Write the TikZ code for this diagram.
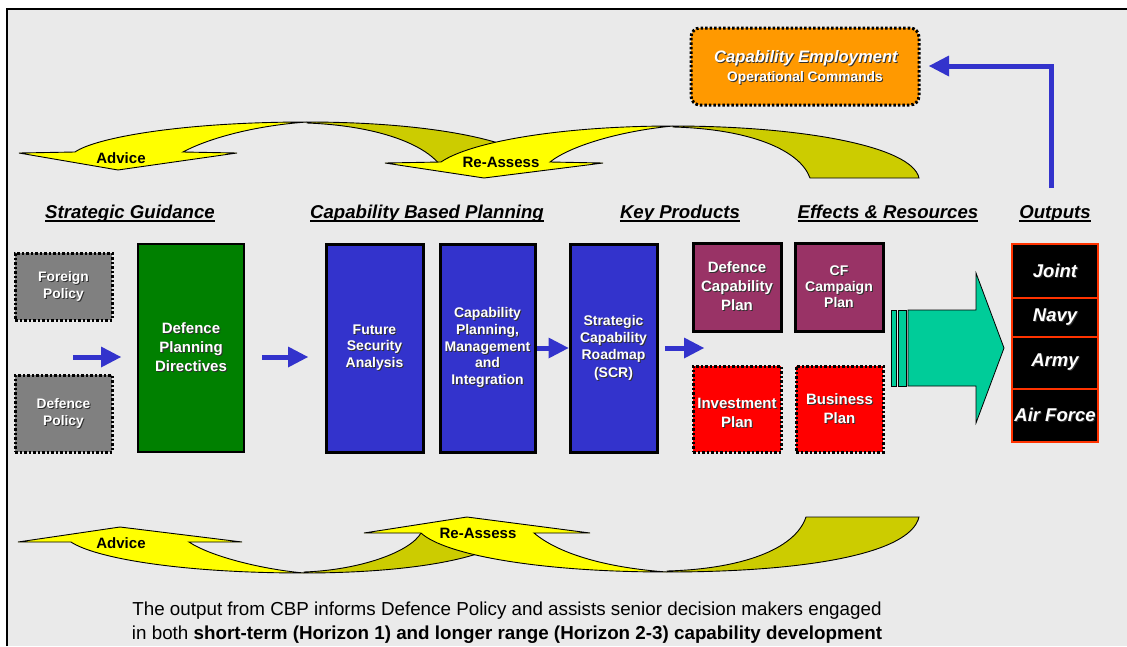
\documentclass[tikz,border=0pt]{standalone}
\usepackage{fontspec}
\setmainfont{Liberation Sans}
\usetikzlibrary{arrows.meta}
\definecolor{bgc}{HTML}{EAEAEA}
\definecolor{grayc}{HTML}{808080}
\definecolor{greenc}{HTML}{008000}
\definecolor{bluec}{HTML}{3333CC}
\definecolor{purplec}{HTML}{993366}
\definecolor{redc}{HTML}{FF0000}
\definecolor{tealc}{HTML}{00CC99}
\definecolor{orangec}{HTML}{FF9900}
\definecolor{yelc}{HTML}{FFFF00}
\definecolor{olivec}{HTML}{CCCC00}
\definecolor{outred}{HTML}{FF3300}
\definecolor{shadowc}{HTML}{303030}
\newcommand\shd[1]{\leavevmode\rlap{\raisebox{-1pt}{\kern1pt\textcolor{shadowc}{#1}}}#1}
\tikzset{
  solidbox/.style={draw=black, line width=2.5pt, text=white, align=center, inner sep=0pt},
  dotbox/.style={draw=black, line width=3pt, dash pattern=on 2.5pt off 2pt, text=white, align=center, inner sep=0pt},
  head/.style={font=\bfseries\itshape\fontsize{18.6}{20}\selectfont, inner sep=0pt, anchor=base},
  lbl/.style={font=\bfseries\fontsize{15}{17}\selectfont, inner sep=0pt},
  yarrow/.style={draw=black, line width=0.9pt, line join=miter},
  barrow/.style={draw=bluec, line width=5pt, -{Triangle[length=20pt,width=21pt,line width=0pt]}},
  outcell/.style={draw=outred, line width=1.5pt, fill=black, text=white, inner sep=0pt,
     minimum width=86pt, font=\bfseries\itshape\fontsize{18.5}{20}\selectfont},
  teal/.style={draw=black, line width=0.8pt, fill=tealc}
}
\begin{document}
\begin{tikzpicture}[x=1pt,y=-1pt]
\useasboundingbox (0,0) rectangle (1127,646);
\fill[bgc] (7,9) rectangle (1127,646);
\draw[line width=1.5pt] (7,646) -- (7,9) -- (1127,9);

% ---- top curved arrows ----
\filldraw[yarrow, fill=olivec] (307,122) .. controls (420,122) and (520,138) .. (545,168) -- (443,170) .. controls (432,148) and (385,126) .. (307,123) -- cycle;
\filldraw[yarrow, fill=yelc] (19,153) -- (75,152) .. controls (95,138) and (180,122) .. (307,122) .. controls (250,126) and (205,140) .. (183,152) -- (237,153) -- (118,170) -- cycle;
\filldraw[yarrow, fill=olivec] (673,126) .. controls (800,126) and (912,146) .. (919,178) -- (810,178) .. controls (800,150) and (750,129) .. (673,127) -- cycle;
\filldraw[yarrow, fill=yelc] (385,163) -- (441,162) .. controls (470,142) and (560,126) .. (673,126) .. controls (620,131) and (570,146) .. (550,162) -- (603,163) -- (484,178) -- cycle;
\node[lbl] (adv1) at (121,158) {Advice};
\node[lbl] (rea1) at (501,162) {Re-Assess};

% ---- bottom curved arrows ----
\filldraw[yarrow, fill=olivec] (304,573) .. controls (380,573) and (480,565) .. (515,535) -- (421,533) .. controls (410,552) and (360,570) .. (304,572) -- cycle;
\filldraw[yarrow, fill=yelc] (18,542) -- (71,542) .. controls (95,558) and (180,573) .. (304,573) .. controls (260,569) and (210,556) .. (189,542) -- (242,542) -- (120,527) -- cycle;
\filldraw[yarrow, fill=olivec] (667,572) .. controls (800,572) and (910,555) .. (919,517) -- (806,517) .. controls (795,550) and (740,569) .. (667,571) -- cycle;
\filldraw[yarrow, fill=yelc] (364,533) -- (421,533) .. controls (445,555) and (540,572) .. (667,572) .. controls (610,568) and (560,555) .. (534,533) -- (590,533) -- (467,517) -- cycle;
\node[lbl] (adv2) at (121,543) {Advice};
\node[lbl] (rea2) at (478,533) {Re-Assess};

% ---- capability employment ----
\node[dotbox, fill=orangec, rounded corners=9pt, minimum width=228pt, minimum height=77pt] (ce) at (805,66.5) {};
\node[text=white, font=\bfseries\itshape\fontsize{16.6}{18}\selectfont, inner sep=0pt] (cet1) at (806,59) {\shd{Capability Employment}};
\node[text=white, font=\bfseries\fontsize{13.8}{15}\selectfont, inner sep=0pt] (cet2) at (805,78) {\shd{Operational Commands}};

% ---- headings ----
\node[head] (h1) at (130,218.5) {Strategic Guidance};
\node[head] (h2) at (427,218.5) {Capability Based Planning};
\node[head] (h3) at (680,218.5) {Key Products};
\node[head] (h4) at (888,218.5) {Effects \& Resources};
\node[head] (h5) at (1055,218.5) {Outputs};
\foreach \n in {h1,h2,h3,h4,h5}
  \draw[line width=1.3pt] ([yshift=-2.6pt]\n.base west) -- ([yshift=-2.6pt]\n.base east);

% ---- boxes ----
\node[dotbox, fill=grayc, minimum width=97pt, minimum height=67pt, font=\bfseries\fontsize{13.8}{17}\selectfont] (fp) at (63.5,286.5) {\shd{Foreign}\\\shd{Policy}};
\node[dotbox, fill=grayc, minimum width=97pt, minimum height=77pt, font=\bfseries\fontsize{13.8}{17}\selectfont] (dp) at (63.5,413.5) {\shd{Defence}\\\shd{Policy}};
\node[solidbox, fill=greenc, minimum width=106pt, minimum height=208pt, font=\bfseries\fontsize{15}{19}\selectfont] (dpd) at (191,348) {\shd{Defence}\\\shd{Planning}\\\shd{Directives}};
\node[solidbox, line width=3pt, fill=bluec, minimum width=97pt, minimum height=208pt, font=\bfseries\fontsize{14}{16.7}\selectfont] (fsa) at (374.5,348) {\shd{Future}\\\shd{Security}\\\shd{Analysis}};
\node[solidbox, line width=3pt, fill=bluec, minimum width=95pt, minimum height=208pt, font=\bfseries\fontsize{14}{16.7}\selectfont] (cpm) at (487.5,348) {\shd{Capability}\\\shd{Planning,}\\\shd{Management}\\\shd{and}\\\shd{Integration}};
\node[solidbox, line width=3pt, fill=bluec, minimum width=87pt, minimum height=208pt, font=\bfseries\fontsize{14}{17.3}\selectfont] (scr) at (613.5,348) {\shd{Strategic}\\\shd{Capability}\\\shd{Roadmap}\\\shd{(SCR)}};
\node[solidbox, line width=3pt, fill=purplec, minimum width=88pt, minimum height=88pt, font=\bfseries\fontsize{15}{19}\selectfont] (dcp) at (737,287) {\shd{Defence}\\\shd{Capability}\\\shd{Plan}};
\node[solidbox, line width=3pt, fill=purplec, minimum width=88pt, minimum height=88pt, font=\bfseries\fontsize{14}{16}\selectfont] (cfc) at (839,287) {\shd{CF}\\\shd{Campaign}\\\shd{Plan}};
\node[dotbox, fill=redc, minimum width=88pt, minimum height=86pt, font=\bfseries\fontsize{15}{19}\selectfont] (ip) at (737,409) {\rule{0pt}{19pt}\shd{Investment}\\\shd{Plan}};
\node[dotbox, fill=redc, minimum width=87pt, minimum height=86pt, font=\bfseries\fontsize{15}{19}\selectfont] (bp) at (839.5,409) {\shd{Business}\\\shd{Plan}};

% ---- outputs ----
\node[outcell, minimum height=54pt] (oj) at (1055,271) {\shd{Joint}};
\node[outcell, minimum height=39pt] (on) at (1055,317.5) {\shd{Navy}};
\node[outcell, minimum height=52pt] (oa) at (1055,363) {\shd{Army}};
\node[outcell, minimum height=53pt] (oaf) at (1055,415.5) {\shd{Air Force}};

% ---- green arrow ----
\filldraw[teal] (891,310) rectangle (896,386);
\filldraw[teal] (898,310) rectangle (906,386);
\filldraw[teal, line join=miter] (908,310) -- (976,310) -- (976,273) -- (1004,348) -- (976,423) -- (976,386) -- (908,386) -- cycle;

% ---- blue arrows ----
\coordinate (a1s) at (73,357);  \coordinate (a1e) at (121,357);
\coordinate (a2s) at (262,357); \coordinate (a2e) at (308,357);
\coordinate (a4s) at (665,348); \coordinate (a4e) at (704,348);
\coordinate (a5s) at (1051,188); \coordinate (a5e) at (929,66);
\draw[barrow] (a1s) -- (a1e);
\draw[barrow] (a2s) -- (a2e);
\draw[barrow] (cpm.east) -- (scr.west);
\draw[barrow] (a4s) -- (a4e);
\draw[barrow, line join=miter] (a5s) |- (a5e);

% ---- note ----
\node[font=\fontsize{18.8}{24}\selectfont, align=center, inner sep=0pt] (note) at (507,623) {The output from CBP informs Defence Policy and assists senior decision makers engaged\\in both \textbf{short-term (Horizon 1) and longer range (Horizon 2-3) capability development}};
\end{tikzpicture}
\end{document}
